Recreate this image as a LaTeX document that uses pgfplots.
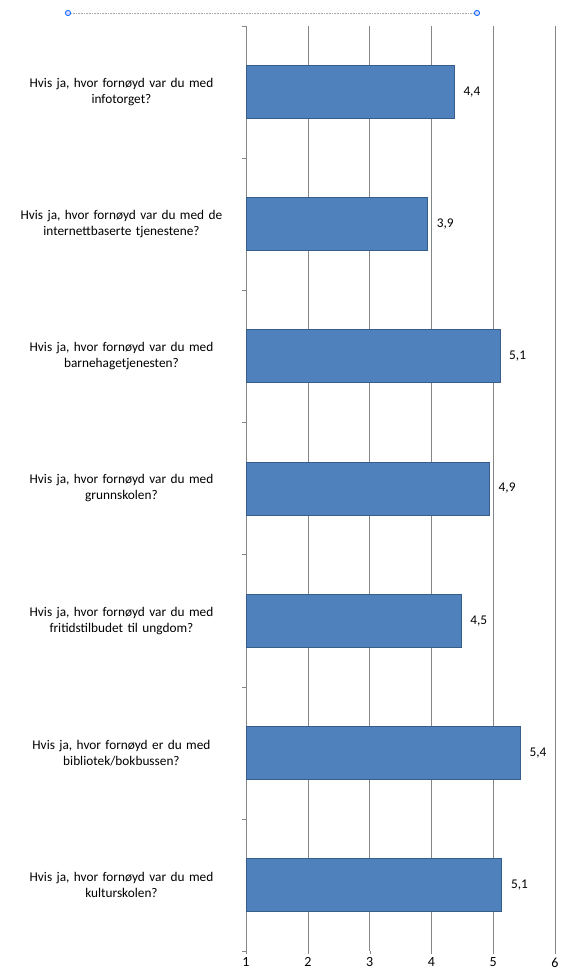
\documentclass[border=0pt]{standalone}
\usepackage{fontspec}
\setmainfont{Carlito}
\usepackage{pgfplots}
\pgfplotsset{compat=1.18}
\definecolor{barfill}{HTML}{4F81BD}
\definecolor{baredge}{HTML}{385D8A}
\definecolor{gridc}{HTML}{868686}
\begin{document}
\begin{tikzpicture}[x=1pt,y=1pt]
\begin{axis}[
  at={(246pt,26pt)}, anchor=south west,
  scale only axis, width=309pt, height=925pt,
  xbar, bar width=53pt,
  xmin=1, xmax=6, xtick={1,...,6},
  ymin=-0.5, ymax=6.5, y dir=reverse,
  ytick={0,...,6},
  yticklabels={
    {Hvis ja, hvor fornøyd var du med\\infotorget?},
    {Hvis ja, hvor fornøyd var du med de\\internettbaserte tjenestene?},
    {Hvis ja, hvor fornøyd var du med\\barnehagetjenesten?},
    {Hvis ja, hvor fornøyd var du med\\grunnskolen?},
    {Hvis ja, hvor fornøyd var du med\\fritidstilbudet til ungdom?},
    {Hvis ja, hvor fornøyd er du med\\bibliotek/bokbussen?},
    {Hvis ja, hvor fornøyd var du med\\kulturskolen?}},
  yticklabel style={text width=236pt, align=center, font=\fontsize{13.3}{16}\selectfont},
  xticklabel style={font=\fontsize{14}{16}\selectfont},
  /pgf/number format/assume math mode=true,
  minor ytick={-0.5,0.5,...,6.5},
  major y tick style={draw=none},
  minor tick length=4pt,
  major tick length=3pt,
  tick align=outside,
  xtick pos=bottom, ytick pos=left,
  tick style={gridc},
  xmajorgrids, grid style={gridc, line width=0.6pt},
  separate axis lines,
  x axis line style={draw=none},
  y axis line style={gridc, line width=0.6pt},
  nodes near coords,
  nodes near coords style={font=\fontsize{13.3}{16}\selectfont, black, anchor=west, xshift=5.5pt},
  point meta=explicit symbolic,
]
\addplot[fill=barfill, draw=baredge, line width=0.8pt] coordinates {
  (4.37,0) [4,4]
  (3.94,1) [3,9]
  (5.11,2) [5,1]
  (4.94,3) [4,9]
  (4.48,4) [4,5]
  (5.44,5) [5,4]
  (5.14,6) [5,1]
};
\end{axis}
\draw[gridc!70, densely dotted, line width=0.6pt] (68,964) -- (477,964);
\foreach \xx in {68,477} \draw[fill=blue!15, draw=blue!60!cyan, line width=0.8pt] (\xx,964) circle (2.6);
\pgfresetboundingbox
\path[use as bounding box] (0,0) rectangle (560,977);
\end{tikzpicture}
\end{document}
